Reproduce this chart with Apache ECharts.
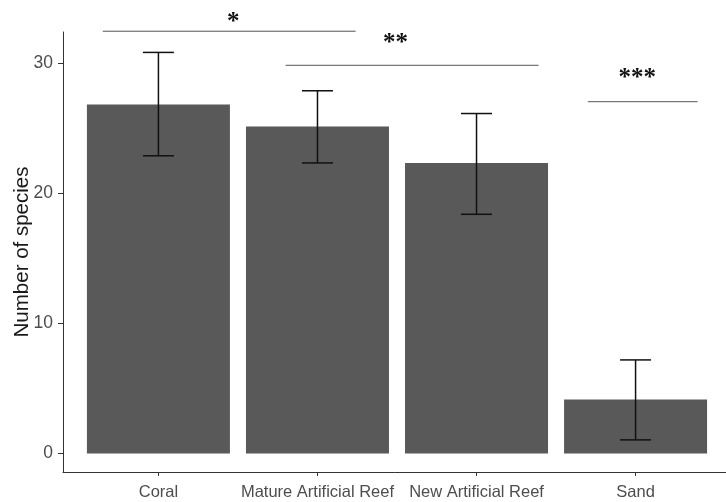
<!DOCTYPE html>
<html>
<head>
<meta charset="utf-8">
<script src="https://cdn.jsdelivr.net/npm/echarts@6/dist/echarts.min.js"></script>
<style>
html,body{margin:0;padding:0;background:#fff;}
#c{width:726px;height:502px;}
</style>
</head>
<body>
<div id="c"></div>
<script>
var categories = ['Coral', 'Mature Artificial Reef', 'New Artificial Reef', 'Sand'];
var means = [26.85, 25.15, 22.35, 4.15];
var errLow = [22.9, 22.35, 18.4, 1.05];
var errHigh = [30.85, 27.9, 26.15, 7.2];
var yTicks = [0, 10, 20, 30];
var sigStart = [0.65, 1.80, 3.70];
var sigEnd = [2.24, 3.39, 4.39];
var sigY = [32.48, 29.86, 27.06];
var sigLabel = ['*', '**', '***'];
var sigLabelX = [1.47, 2.49, 4.01];
var sigLabelY = [33.12, 31.57, 28.87];

var positions = categories.map(function (c, i) { return i + 1; });
var barData = means.map(function (v, i) { return [positions[i], v]; });
var errData = means.map(function (v, i) { return [positions[i], errLow[i], errHigh[i]]; });
var sigData = sigLabel.map(function (s, i) { return [sigStart[i], sigEnd[i], sigY[i], sigLabelX[i], sigLabelY[i], s]; });

var chart = echarts.init(document.getElementById('c'), null, {renderer: 'canvas'});
chart.setOption({
  animation: false,
  backgroundColor: '#ffffff',
  grid: {left: 63, top: 32, width: 668, height: 440, containLabel: false, outerBoundsMode: 'none'},
  xAxis: {
    type: 'value', min: 0.4, max: 4.6,
    splitLine: {show: false},
    axisLine: {show: true, onZero: false, lineStyle: {color: '#333', width: 1}},
    axisTick: {show: true, customValues: positions, length: 4, lineStyle: {color: '#333'}},
    axisLabel: {
      customValues: positions, margin: 12,
      color: '#4d4d4d', fontSize: 16.5, fontFamily: 'Liberation Sans',
      formatter: function (v) { return categories[Math.round(v) - 1] || ''; }
    }
  },
  yAxis: {
    type: 'value', min: -1.42, max: 32.42,
    name: 'Number of species', nameLocation: 'middle', nameGap: 30, nameMoveOverlap: false,
    nameTextStyle: {color: '#1a1a1a', fontSize: 20.5, fontFamily: 'Liberation Sans'},
    splitLine: {show: false},
    axisLine: {show: true, onZero: false, lineStyle: {color: '#333', width: 1}},
    axisTick: {show: true, customValues: yTicks, length: 5, lineStyle: {color: '#333'}},
    axisLabel: {customValues: yTicks, margin: 10, color: '#4d4d4d', fontSize: 17.5, fontFamily: 'Liberation Sans'}
  },
  series: [
    {
      type: 'bar', data: barData, barWidth: 143, z: 2,
      itemStyle: {color: '#595959'}
    },
    {
      type: 'custom', data: errData, clip: false, z: 5,
      renderItem: function (params, api) {
        var x = api.value(0);
        var lo = api.coord([x, api.value(1)]);
        var hi = api.coord([x, api.value(2)]);
        var hw = 15.5;
        var st = {stroke: '#111', lineWidth: 1.5};
        return {type: 'group', children: [
          {type: 'line', shape: {x1: lo[0], y1: lo[1], x2: hi[0], y2: hi[1]}, style: st},
          {type: 'line', shape: {x1: lo[0] - hw, y1: lo[1], x2: lo[0] + hw, y2: lo[1]}, style: st},
          {type: 'line', shape: {x1: hi[0] - hw, y1: hi[1], x2: hi[0] + hw, y2: hi[1]}, style: st}
        ]};
      }
    },
    {
      type: 'custom', data: sigData, clip: false, z: 5,
      renderItem: function (params, api) {
        var a = api.coord([api.value(0), api.value(2)]);
        var b = api.coord([api.value(1), api.value(2)]);
        var t = api.coord([api.value(3), api.value(4)]);
        return {type: 'group', children: [
          {type: 'line', shape: {x1: a[0], y1: a[1], x2: b[0], y2: b[1]}, style: {stroke: '#555', lineWidth: 1}},
          {type: 'text', x: t[0], y: t[1], style: {
            text: sigLabel[params.dataIndex], fill: '#111', fontSize: 25, fontWeight: 'bold',
            fontFamily: 'Liberation Serif', align: 'center', verticalAlign: 'middle'
          }}
        ]};
      }
    }
  ]
});
</script>
</body>
</html>
